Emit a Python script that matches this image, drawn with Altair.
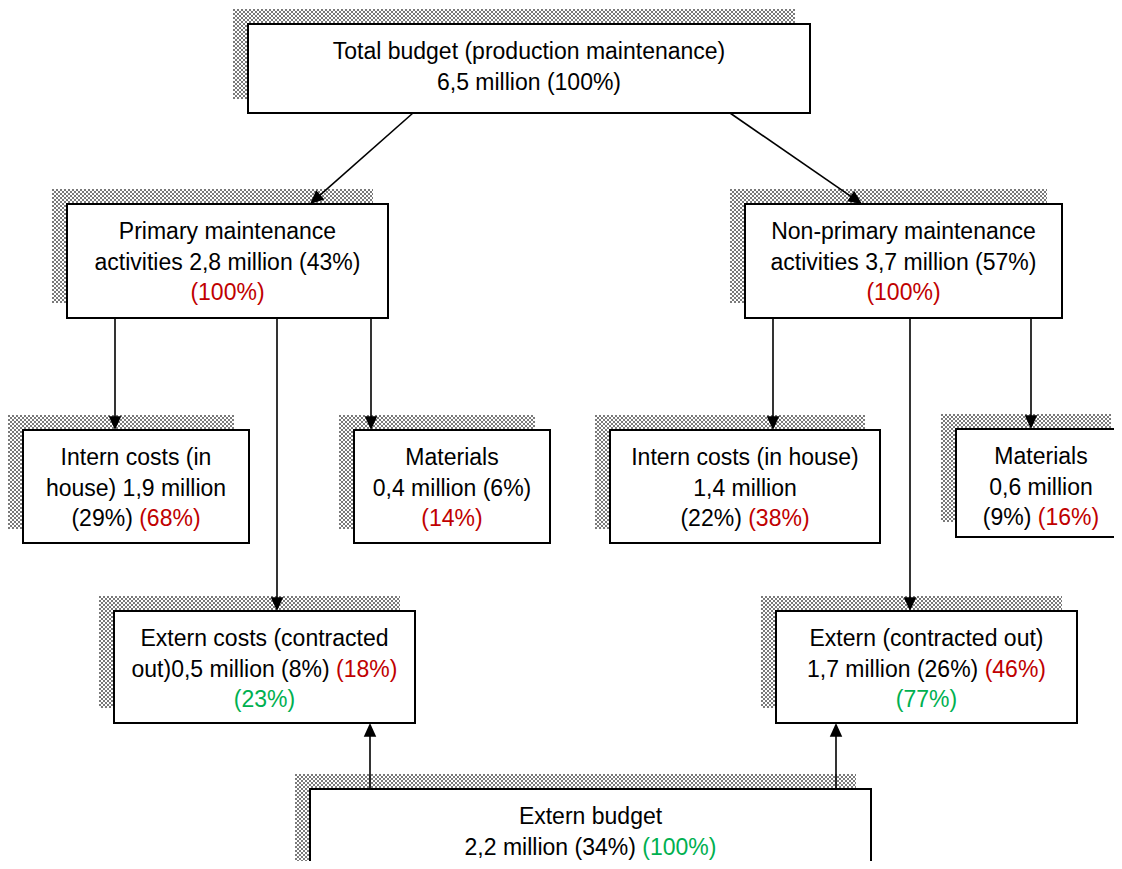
import math
import altair as alt
import pandas as pd

# ---------------- content ----------------
K, R, G = "black", "red", "green"
PALETTE = {"black": "#000000", "red": "#c00000", "green": "#00b050"}
SHADOW_GREY = "#7a7a7a"

box_ids = ["total", "primary", "nonprimary", "internL", "materialsL",
           "internR", "materialsR", "externL", "externR", "externBudget"]

box_text = [
    [[("Total budget (production maintenance)", K)], [("6,5 million (100%)", K)]],
    [[("Primary maintenance", K)], [("activities 2,8 million (43%)", K)], [("(100%)", R)]],
    [[("Non-primary maintenance", K)], [("activities 3,7 million (57%)", K)], [("(100%)", R)]],
    [[("Intern costs (in", K)], [("house) 1,9 million", K)], [("(29%)", K), ("(68%)", R)]],
    [[("Materials", K)], [("0,4 million (6%)", K)], [("(14%)", R)]],
    [[("Intern costs (in house)", K)], [("1,4 million", K)], [("(22%)", K), ("(38%)", R)]],
    [[("Materials", K)], [("0,6 million", K)], [("(9%)", K), ("(16%)", R)]],
    [[("Extern costs (contracted", K)], [("out)0,5 million (8%)", K), ("(18%)", R)], [("(23%)", G)]],
    [[("Extern (contracted out)", K)], [("1,7 million (26%)", K), ("(46%)", R)], [("(77%)", G)]],
    [[("Extern budget", K)], [("2,2 million (34%)", K), ("(100%)", G)]],
]

# ---------------- layout (page pixels) ----------------
box_x0 = [248, 67, 745, 23, 354, 610, 956, 114, 776, 310]
box_x1 = [810, 388, 1062, 249, 550, 880, 1126, 415, 1077, 871]
box_y0 = [24, 204, 204, 430, 430, 430, 429, 611, 611, 789]
box_y1 = [113, 318, 318, 543, 543, 543, 537, 723, 723, 900]

arrow_x0 = [413, 730, 115, 277, 371, 773, 910, 1031, 370, 836]
arrow_y0 = [113, 113, 318, 318, 318, 318, 318, 318, 789, 789]
arrow_x1 = [310, 862, 115, 277, 371, 773, 910, 1031, 370, 836]
arrow_y1 = [204, 204, 430, 611, 430, 430, 611, 429, 723, 723]

SHADOW_DX, SHADOW_DY = -15, -15
FONT = "Liberation Sans"
FONT_SIZE = 23
LINE_H = 30.5
FIRST_LINE = 28

# Arial / Liberation Sans advance widths (1/1000 em)
WID = {' ': 278, '(': 333, ')': 333, '%': 889, ',': 278, '-': 333, '.': 278}
for d in "0123456789":
    WID[d] = 556
for ch, w in zip("abcdefghijklmnopqrstuvwxyz",
                 [556, 556, 500, 556, 556, 278, 556, 556, 222, 222, 500, 222, 833,
                  556, 556, 556, 556, 333, 500, 278, 556, 500, 722, 500, 500, 500]):
    WID[ch] = w
for ch, w in zip("ABCDEFGHIJKLMNOPQRSTUVWXYZ",
                 [667, 667, 722, 722, 667, 611, 778, 722, 278, 500, 667, 556, 833,
                  722, 778, 667, 778, 722, 667, 611, 722, 667, 944, 667, 667, 611]):
    WID[ch] = w


def tw(s):
    return sum(WID.get(c, 556) for c in s) * FONT_SIZE / 1000.0


# ---------------- derived tables ----------------
boxes = pd.DataFrame({"id": box_ids, "x0": box_x0, "x1": box_x1, "y0": box_y0, "y1": box_y1})

rows = []
for x0, x1, y0, y1 in zip(box_x0, box_x1, box_y0, box_y1):
    sx0, sx1, sy0, sy1 = x0 + SHADOW_DX, x1 + SHADOW_DX, y0 + SHADOW_DY, y1 + SHADOW_DY
    k = 0
    while k < (sy1 - sy0):
        rows.append({"x0": sx0, "x1": sx1, "y": sy0 + k + 1, "odd": (k // 2) % 2})
        k += 2
shadow = pd.DataFrame(rows)

lines = []
heads = []
for ax0, ay0, ax1, ay1 in zip(arrow_x0, arrow_y0, arrow_x1, arrow_y1):
    dx, dy = ax1 - ax0, ay1 - ay0
    n = math.hypot(dx, dy)
    ux, uy = dx / n, dy / n
    lines.append({"x0": ax0, "y0": ay0, "x1": ax1 - 10 * ux, "y1": ay1 - 10 * uy})
    ang = math.degrees(math.atan2(-dx, dy)) % 360
    heads.append({"x": ax1, "y": ay1, "angle": ang})
lines = pd.DataFrame(lines)
heads = pd.DataFrame(heads)

texts = []
for (x0, x1, y0), blines in zip(zip(box_x0, box_x1, box_y0), box_text):
    cx = (x0 + x1) / 2.0
    for i, segs in enumerate(blines):
        y = y0 + FIRST_LINE + LINE_H * i
        if len(segs) == 1:
            texts.append({"x": cx, "y": y, "t": segs[0][0], "c": PALETTE[segs[0][1]], "a": "center"})
        else:
            s1, s2 = segs
            total = tw(s1[0]) + tw(" ") + tw(s2[0])
            start = cx - total / 2.0
            texts.append({"x": start + tw(s1[0]), "y": y, "t": s1[0], "c": PALETTE[s1[1]], "a": "right"})
            texts.append({"x": start + tw(s1[0]) + tw(" "), "y": y, "t": s2[0], "c": PALETTE[s2[1]], "a": "left"})
texts = pd.DataFrame(texts)

# ---------------- chart ----------------
W, H = 1106, 853
xs = alt.Scale(domain=[8, 8 + W], nice=False, zero=False)
ys = alt.Scale(domain=[8, 8 + H], nice=False, zero=False, reverse=True)


def X(f):
    return alt.X(f, type="quantitative", scale=xs, axis=None)


def Y(f):
    return alt.Y(f, type="quantitative", scale=ys, axis=None)


layers = []
for odd in (0, 1):
    layers.append(
        alt.Chart(shadow[shadow["odd"] == odd]).mark_rule(
            stroke=SHADOW_GREY, strokeWidth=2, strokeDash=[2, 2],
            strokeDashOffset=2 * odd, clip=True
        ).encode(x=X("x0"), x2="x1", y=Y("y"))
    )

layers.append(
    alt.Chart(boxes).mark_rect(fill="white", stroke="black", strokeWidth=2, clip=True)
    .encode(x=X("x0"), x2="x1", y=Y("y0"), y2="y1")
)

layers.append(
    alt.Chart(lines).mark_rule(stroke="black", strokeWidth=1.6, clip=True)
    .encode(x=X("x0"), x2="x1", y=Y("y0"), y2="y1")
)

layers.append(
    alt.Chart(heads).mark_point(
        shape="M0,0 L-0.5,-1.1 L0.5,-1.1 Z", filled=True, size=625,
        color="black", opacity=1, strokeWidth=0
    ).encode(x=X("x"), y=Y("y"), angle=alt.Angle("angle:Q", scale=None))
)

for a in ("center", "left", "right"):
    sub = texts[texts["a"] == a]
    if len(sub):
        layers.append(
            alt.Chart(sub).mark_text(font=FONT, fontSize=FONT_SIZE, align=a, baseline="middle")
            .encode(x=X("x"), y=Y("y"), text="t:N", color=alt.Color("c:N", scale=None))
        )

chart = alt.layer(*layers).properties(width=W, height=H, padding=0).configure_view(stroke=None)

chart.save("out.html", embed_options={"renderer": "svg", "actions": False})
